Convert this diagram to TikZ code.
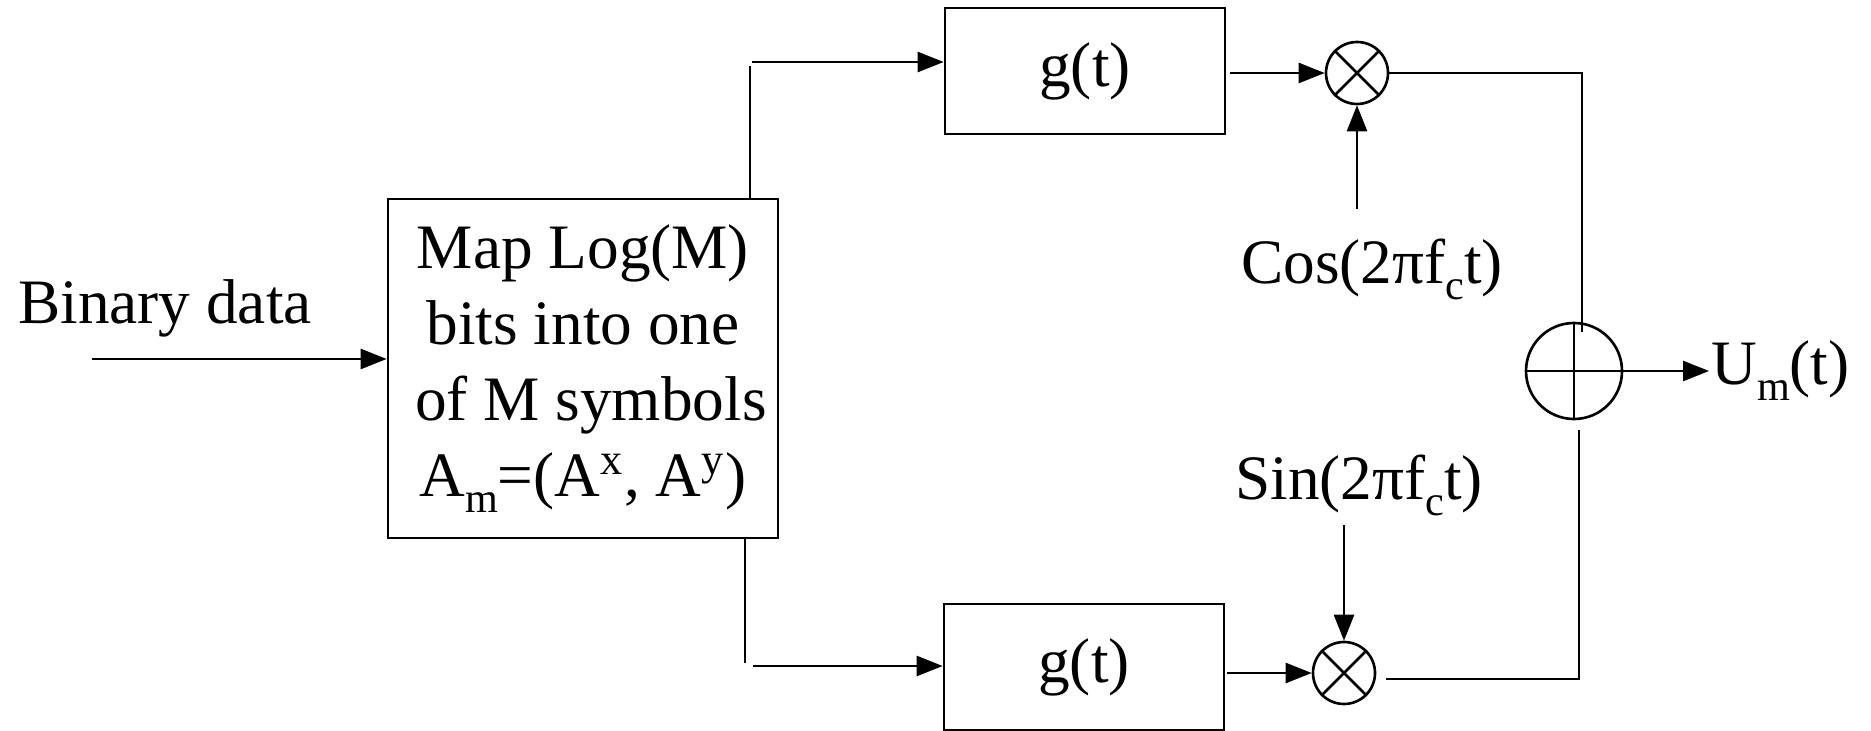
\documentclass[tikz,border=0pt]{standalone}
\usepackage{fontspec}
\setmainfont{Liberation Serif}
\usetikzlibrary{arrows.meta,calc,positioning}

% lowered subscript as in the original labels
\newcommand{\lsub}[1]{\raisebox{-0.55ex}{\fontsize{12}{12}\selectfont #1}}

\begin{document}
\begin{tikzpicture}[>={Triangle[length=2.6mm,width=2mm]}, line width=0.75pt, font=\fontsize{18}{21.6}\selectfont]
    \useasboundingbox (0,0) rectangle (18.71,7.30);

    %coordinates
    \coordinate (MAP) at (5.83,3.615);
    \coordinate (G0)  at (10.85,6.59);
    \coordinate (G1)  at (10.84,0.63);
    \coordinate (X0)  at (13.57,6.57);
    \coordinate (X1)  at (13.44,0.57);
    \coordinate (SUM) at (15.74,3.59);

    \coordinate (in)  at (0.92,3.71);
    \coordinate (up)  at (7.50,6.68);
    \coordinate (dn)  at (7.45,0.64);
    \coordinate (cos) at ($(X0) + (0,-1.36)$);
    \coordinate (sin) at ($(X1) + (0,1.48)$);
    \coordinate (out) at ($(SUM) + (1.35,0)$);

    %nodes
    \node[draw, minimum width=3.9cm, minimum height=3.39cm, align=center, inner sep=0pt] (A) at (MAP) {Map Log(M)\\ bits into one\\ \ of M symbols\\ A\lsub{m}=(A\textsuperscript{x}, A\textsuperscript{y})};
    \node[draw, minimum width=2.8cm, minimum height=1.26cm] (B) at (G0) {g(t)};
    \node[draw, minimum width=2.8cm, minimum height=1.26cm] (C) at (G1) {g(t)};
    \node[draw, circle, minimum size=0.62cm, inner sep=0pt] (D) at (X0) {};
    \node[draw, circle, minimum size=0.62cm, inner sep=0pt] (E) at (X1) {};
    \node[draw, circle, minimum size=0.96cm, inner sep=0pt] (F) at (SUM) {};

    \node (bin) at (1.65,4.22) {Binary data};
    \node[below=0.17cm of cos, xshift=0.15cm] (ccos) {Cos(2πf\lsub{c}t)};
    \node[above=-0.04cm of sin, xshift=0.15cm] (csin) {Sin(2πf\lsub{c}t)};
    \node[right=0.01cm of out, inner sep=0pt] (U) {U\lsub{m}(t)};

    %symbols
    \draw (D.45) -- (D.225);
    \draw (D.135) -- (D.315);
    \draw (E.45) -- (E.225);
    \draw (E.135) -- (E.315);
    \draw (F.north) -- (F.south);
    \draw (F.west) -- (F.east);

    %edges
    \draw[->] (in) -- (in -| A.west);

    \draw (A.north -| up) -- ($(up) + (0,-0.04)$);
    \draw[->] ($(up) + (0.02,0)$) -- (up -| B.west);
    \draw (A.south -| dn) -- ($(dn) + (0,0.03)$);
    \draw[->] ($(dn) + (0.08,0)$) -- (dn -| C.west);

    \draw[->, shorten <=0.04cm] (B.east |- D.west) -- (D.west);
    \draw[->, shorten <=0.02cm] (C.east |- E.west) -- (E.west);

    \draw[->] (cos) -- (D.south);
    \draw[->] (sin) -- (E.north);

    \draw (D.east) -| ($(F.north) + (0.08,-0.1)$);
    \draw ($(E.east) + (0.1,-0.06)$) -| ($(F.south) + (0.05,-0.1)$);

    \draw[->] (F.east) -- (out);
\end{tikzpicture}
\end{document}
